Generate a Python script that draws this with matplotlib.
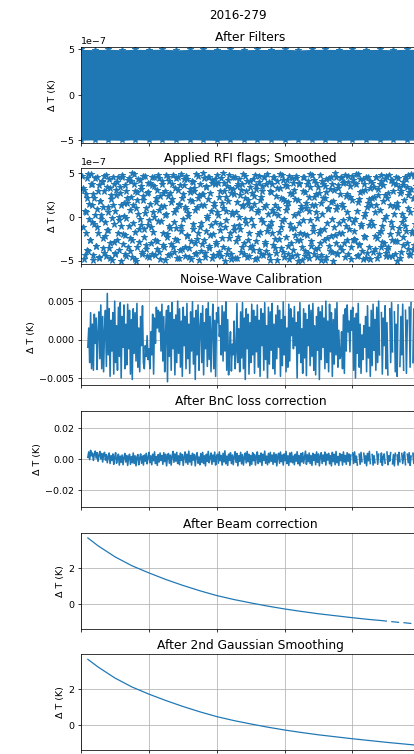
import matplotlib
matplotlib.use('Agg')
import matplotlib.pyplot as plt
import numpy as np

nan = np.nan

# ---------------------------------------------------------------
# data (x in arbitrary time units 0..50)
# ---------------------------------------------------------------
titulo = '2016-279'
paneles = ['After Filters', 'Applied RFI flags; Smoothed', 'Noise-Wave Calibration',
           'After BnC loss correction', 'After Beam correction', 'After 2nd Gaussian Smoothing']

# panel 1: solid band of points, envelope (units 1e-7 K)
banda_x = [0, 2, 4, 6, 8, 10, 12, 14, 16, 18, 20, 22, 24, 26, 28, 30, 32, 34, 36, 38, 40, 42, 44, 46, 48, 50]
banda_sup = [5.00, 4.98, 5.02, 4.97, 5.01, 4.99, 5.03, 4.96, 5.00, 5.02, 4.98, 5.01, 4.97, 5.00,
             4.99, 5.03, 4.95, 5.00, 5.02, 4.98, 5.01, 4.99, 5.00, 4.97, 5.02, 5.00]
banda_inf = [-5.02, -4.98, -5.00, -5.03, -4.97, -5.01, -4.99, -5.02, -4.96, -5.00, -5.03, -4.98, -5.01,
             -4.99, -5.00, -5.02, -4.97, -5.01, -4.99, -5.03, -5.00, -4.98, -5.02, -4.99, -5.01, -5.00]

# panel 2: flagged + smoothed samples (units 1e-8 K), two interleaved sample sets
rfi_a = [
    47, -12, 31, -44, 5, 22, -38, 49, -3, -27, 38, 14, -49, 26, -8, 44, -33, 9, -19, 36,
    -46, 18, 2, 41, -24, -41, 29, -6, 48, -15, 11, -36, 33, -47, 20, -1, 45, -29, 7, -43,
    25, 40, -18, -4, 34, -50, 13, 46, -31, 1, -21, 30, -45, 16, 42, -11, -39, 23, 50, -26,
    -7, 37, -48, 10, 28, -35, 43, -14, -2, 32, -42, 19, 47, -23, 4, -37, 27, -9, 39, -46,
    15, -30, 45, -17, 0, 35, -44, 21, -28, 48, 8, -40, 24, -5, 41, -32, 12, -49, 30, 3,
    -20, 46, -10, 27, -43, 17, 38, -34, 6, -25, 44, -13, -47, 31, 14, -38, 49, -16, 22, -3,
    36, -45, 9, 43, -22, 1, -36, 28, -48, 18, 40, -8, 33, -30, -41, 11, 47, -19, 25, -12,
    -39, 26, 50, -27, 13, -46, 34, -1, 20, -33, 45, -21, 7, 42, -44, 16, -6, 37, -31, 48,
    2, -40, 29, -15, 44, -24, 10, 39, -50, 23, -4, 35, -37, 48, -18, 27, -43, 5, 32, -10,
    46, -28, 17, -47, 38, 0, -14, 31, -35, 12, 49, -42, 21, -7, 41, -26, 15, -45, 34, -2,
    -33, 43, -9, 24, -48, 36, 6, -20, 47, -38, 19, -3, 29, -44, 11, 45, -29, 38, -16, 3,
    40, -11, -49, 28, 8, -32, 46, -25, 14, -41, 33, 2, -17, 49, -36, 22, -5, 42, -46, 18,
    -23, 35, 12, -43, 47, -8, -30, 26, -45, 39, -13, 20, 44, -27, 4, -50, 37, -19, 9, -34,
    30, -4, 45, -39, 16, -21, 41, -47, 7, 34, -28, 48, -10, 23, -42, 13, 39, -1, -36, 27,
    -15, 48, -44, 3, 37, -26, 21, -49, 43, -7, 10, -33, 32, 46, -22, -40, 18, -12, 50, -30,
    9, -42, 33, -18, 26, 44, -38, 15, -4, 40, -46, 24, -26, 6, 47, -14, 35, -48, 19, -6,
    42, -25, -3, 37, -45, 17, 49, -31, 28, -11, -39, 43, 1, -22, 31, -47, 11, 45, -35, 20,
    -48, 14, 39, -9, 23, -37, 5, 46, -24, 32, -43, 8, 41, -16, -29, 36, -2, 25, -41, 47,
    21, -34, 48, -20, -6, 42, -45, 30, 12, -28, 38, -50, 16, 44, -13, 27, -40, 3, 36, -23,
    -1, 45, -16, 34, -37, 10, 28, -44, 49, -19, 22, -32, 47, -8, 35, -46, 13, 40, -27, 6,
]
rfi_b = [
    33, -48, 7, 26, -18, 44, -39, 15, -27, 49, -6, 37, -44, 21, 2, -33, 46, -12, 29, -47,
    18, -3, 40, -36, 11, 47, -22, -45, 34, 6, -15, 43, -30, 25, -49, 13, 38, -8, -41, 31,
    -26, 45, 0, -38, 27, -11, 48, -20, 16, -43, 36, -1, 22, -35, 44, -24, 8, 41, -46, 14,
    49, -17, 30, -50, 19, 3, -29, 42, -9, 35, -40, 24, -14, 47, -32, 10, -45, 28, -4, 39,
    -12, 36, -42, 6, 46, -27, 17, -37, 31, -5, 44, -48, 12, 38, -19, 27, -34, 2, 48, -23,
    24, -44, 41, -13, -31, 20, 48, -6, -40, 33, 9, -26, 45, -47, 15, 36, -10, -37, 26, 43,
    -35, 11, 47, -21, 4, -46, 32, 19, -28, 41, -14, 30, -43, 8, 49, -25, 21, -49, 37, -7,
    14, -31, 26, 44, -41, 35, -16, 1, 46, -36, 27, -9, -47, 39, -20, 12, 43, -29, 5, -44,
    39, 23, -8, -45, 16, 50, -34, 29, -12, 7, -42, 42, 18, -24, 33, -48, 3, 46, -15, 26,
    -47, 6, 35, -23, 43, -9, 25, -40, 37, 13, -30, 47, -2, 29, -46, 19, -18, 41, -35, 10,
    27, -38, 15, 48, -28, 32, -47, 8, 40, -17, 23, -43, 35, -6, 45, -31, 14, -39, 49, -11,
    -44, 30, -6, 38, -19, 46, 4, -36, 24, -49, 41, 10, -25, 33, -12, 48, -40, 20, -2, 36,
    8, 42, -33, 17, -48, 27, -13, 44, -38, 2, 31, -21, 47, -44, 19, -7, 39, -27, 12, -49,
    45, -20, 28, -45, 10, 37, -41, 23, -4, 49, -33, 14, -16, 42, -37, 26, 5, -46, 34, -18,
    -30, 16, -49, 41, 22, -14, 35, -46, 28, -24, 9, 44, -39, 17, -3, 37, -50, 31, -21, 45,
    12, -41, 36, -7, -35, 46, -19, 11, 39, -30, 48, -11, 26, -43, 40, -1, 23, -34, 47, -26,
    -16, 39, -27, 49, 7, -44, 20, -32, 43, -8, 29, -48, 38, 4, -23, 46, -41, 16, -9, 33,
    41, -5, 21, -40, 34, -22, 46, 13, -47, 25, -18, 37, -34, 48, -10, 18, -30, 43, -45, 1,
    -37, 27, -45, 14, 42, -12, -26, 39, 3, -42, 45, -28, 11, -19, 34, -47, 29, -6, 40, -32,
    19, -10, 43, -30, 25, 48, -43, 6, 32, -16, -38, 22, 49, -36, 9, 40, -22, 35, -48, 24,
]

# panel 3: noise-wave calibrated (units 1e-4 K)
nw_vals = [
    -10, 15, -30, 35, -38, 20, -40, 33, -5, 28, -39, 10, 36, -25, 45, -38, 30, -42, 12, 38,
    -35, 60, -20, 40, -48, 25, -15, 35, -45, 50, -30, 18, -40, 42, -22, 48, -50, 30, -10, 45,
    -38, 20, -33, 46, -12, 38, -45, 26, -52, 40, -18, 35, -28, 47, -36, 15, -42, 30, -8, 44,
    -30, -38, -8, -22, 5, -26, -12, -38, 10, -20, 33, -45, 28, -5, 42, 15, 38, 10, 36, -15,
    46, -28, 30, -42, 10, 38, -55, 44, -22, 35, -40, 48, -12, 26, -46, 32, -30, 50, -18, 40,
    -36, 24, -48, 42, -8, 30, -38, 47, -25, 20, -44, 36, -15, 49, -32, 28, -52, 38, -20, 45,
    -40, 16, 34, -30, 44, -46, 22, -12, 40, -35, 48, -26, 30, -42, 12, 46, -38, 25, -48, 35,
    22, 42, 4, 18, -20, 44, -28, 36, -15, 49, -40, 26, -46, -12, 10, -41, -6, -20, 24, -38,
    -18, 47, -30, 14, -42, 36, -24, 48, -38, 28, -52, 40, -12, 33, -45, 22, -30, 46, -20, 38,
    -44, 30, -16, 45, -36, 25, -48, 40, -8, 34, -40, 48, -26, 18, -50, 42, -32, 36, -14, 47,
    -38, 20, -45, 32, -25, 44, -10, 38, -48, 26, -34, 49, -20, 30, -42, 15, -36, 46, -28, 40,
    5, 28, -12, 43, -8, 22, -50, 36, -18, 48, -30, 14, -44, 40, -24, 34, -47, 26, -8, 45,
    -34, 38, -22, 47, -40, 18, -46, 30, -14, 42, -52, 36, -26, 44, -10, 28, -38, 50, -30, 24,
    -42, 46, -16, 35, -48, 26, -32, 40, -20, 48, -36, 12, -25, -22, 10, -38, 32, -44, 40, -15,
    45, 10, 24, -16, 38, 12, 42, -40, 28, -50, 34, -18, 47, -36, 20, -44, 6, -26, 18, -10,
    30, -42, 44, -24, 16, -48, 38, -34, 46, -14, 26, -40, 42, -30, 50, -20, nan, 35, -45, 28,
    -8, 44, -38, 22, -46, nan, 40, -30, 48, -16, nan, 36, -42, 20, -48, 45, nan, -35, 30, -20,
    46, -40, nan, 38, -44, 25, nan, 42, -36, 48, nan, -30, 40, -45, nan, 35, -25, 46, -38, 30,
]

# panel 4: after BnC loss correction (units 1e-4 K)
bnc_vals = [
    10, 45, -5, 55, 20, 38, -10, 30, 50, 5, 40, -15, 25, 48, 0, 35, -20, 30, 42, -8,
    28, -25, 15, 38, -30, 20, -10, 32, -35, 12, 40, -28, 5, 30, -40, 18, -22, 25, -38, 10,
    35, -20, 22, -42, 8, 30, -35, 15, -25, 38, -30, 20, -45, 12, 28, -38, 5, 32, -28, 18,
    -40, 25, -15, 36, -32, 10, 42, -25, 20, -38, 30, -12, 45, -30, 15, -42, 28, -20, 38, -10,
    22, -35, 40, -18, 30, -45, 12, 35, -28, 25, -40, 18, 48, -22, 32, -15, 42, -30, 20, -38,
    38, -10, 28, -42, 15, 45, -25, 30, -35, 50, -20, 22, -40, 36, -8, 28, -45, 18, 40, -28,
    12, -38, 35, -22, 42, -30, 20, -45, 30, -15, 48, -25, 10, 38, -35, 25, -18, 44, -40, 15,
    30, -28, 45, -12, 22, -40, 36, -20, 52, -32, 18, -42, 30, -10, 40, -30, 25, -38, 15, 46,
    -22, 35, -45, 20, -15, 42, -32, 28, -40, 12, 38, -26, 48, -18, 30, -44, 22, -35, 40, -12,
    28, -40, 15, 45, -30, 22, -20, 38, -42, 30, -10, 50, -28, 18, -38, 35, -25, 42, -15, 25,
    -35, 40, -22, 30, -45, 15, 36, -28, 44, -18, 25, -40, 32, -12, 48, -30, 20, -42, 38, -20,
    42, -25, 18, -38, 30, -15, 46, -32, 22, -44, 35, -20, 40, -28, 12, 50, -35, 26, -18, 38,
    -30, 22, -42, 36, -10, 28, -38, 45, -22, 32, -45, 18, 40, -30, 25, -15, 44, -40, 30, -8,
    36, -32, 20, -45, 42, -18, 30, -38, 48, -25, 15, -42, 35, -12, 28, -40, 45, -20, 22, -35,
    40, -15, 32, -42, 25, nan, 38, -30, 45, -22, 18, -40, nan, 30, -35, 42, -18, nan, 36, -28,
    20, -44, 35, -12, 48, -30, nan, 28, -40, 22, -25, nan, 45, -35, 30, nan, -20, 38, -42, 15,
    32, -28, nan, 44, -38, 20, -15, 40, nan, -32, 28, -45, 36, nan, 25, -40, 42, -18, nan, 35,
    -30, 22, 45, -38, nan, 30, -25, 40, -42, 18, nan, 36, -30, 44, -20, 28, -44, nan, 38, -15,
]

# panel 5: after beam correction (K), with small data gaps at the end
beam_x = [1, 2.5, 5, 7.5, 10, 12.5, 15, 17.5, 20, 22.5, 25, 27.5, 30, 32.5, 35, 37.5, 40, 42.5,
          44, 45, 45.3, 45.8, 46.8, 47.1, 47.6, 48.6, 48.9, 49.4, 50]
beam_y = [3.70, 3.26, 2.64, 2.14, 1.74, 1.37, 1.04, 0.74, 0.47, 0.25, 0.06, -0.12, -0.28, -0.42,
          -0.55, -0.66, -0.77, -0.87, -0.92, -0.96, nan, -0.99, -1.03, nan, -1.05, -1.09, nan, -1.11, -1.15]

# panel 6: after 2nd gaussian smoothing (K)
suave_x = [1, 2.5, 5, 7.5, 10, 12.5, 15, 17.5, 20, 22.5, 25, 27.5, 30, 32.5, 35, 37.5, 40, 42.5,
           45, 47.5, 50]
suave_y = [3.68, 3.25, 2.63, 2.13, 1.73, 1.37, 1.04, 0.74, 0.47, 0.25, 0.06, -0.12, -0.28, -0.42,
           -0.55, -0.66, -0.77, -0.87, -0.97, -1.06, -1.15]

# ---------------------------------------------------------------
# figure
# ---------------------------------------------------------------
DPI = 68
W, H = 414, 754
fig = plt.figure(figsize=((W + 0.3) / DPI, (H + 0.3) / DPI), dpi=DPI)

izq, der = 81, 420
alto = 96
tops = [47, 168, 289, 411, 533, 654]
axs = []
for i, t in enumerate(tops):
    ax = fig.add_axes([izq / W, 1 - (t + alto) / H, (der - izq) / W, alto / H],
                      sharex=axs[0] if axs else None)
    axs.append(ax)

fig.text(238 / W, 1 - 15 / H, titulo, ha='center', va='center', fontsize=12.6)

# 1. After Filters
ax = axs[0]
bx = np.array(banda_x)
ax.fill_between(bx, np.array(banda_inf) * 1e-7, np.array(banda_sup) * 1e-7, color='C0', lw=0)
ax.plot(bx, np.array(banda_sup) * 1e-7, '*', color='C0')
ax.plot(bx, np.array(banda_inf) * 1e-7, '*', color='C0')
ax.set_ylim(-5.3e-7, 5.3e-7)
ax.set_yticks([-5e-7, 0, 5e-7])

# 2. Applied RFI flags; Smoothed
ax = axs[1]
for serie, x0 in ((rfi_a, 0.2), (rfi_b, 0.3)):
    ys = np.array(serie) * 1e-8
    ax.plot(np.linspace(x0, 50, len(ys)), ys, '*', color='C0', markersize=7, linestyle='none')
ax.set_ylim(-5.37e-7, 5.6e-7)
ax.set_yticks([-5e-7, 0, 5e-7])

# 3. Noise-Wave Calibration
ax = axs[2]
y3 = np.array(nw_vals, dtype=float) * 1e-4
ax.plot(np.linspace(1, 50, len(y3)), y3, color='C0', lw=1.7)
ax.set_ylim(-0.0059, 0.0066)
ax.set_yticks([-0.005, 0, 0.005])

# 4. After BnC loss correction
ax = axs[3]
y4 = np.array(bnc_vals, dtype=float) * 1e-4
ax.plot(np.linspace(1, 50, len(y4)), y4, color='C0', lw=1.7)
ax.set_ylim(-0.031, 0.031)
ax.set_yticks([-0.02, 0, 0.02])

# 5. After Beam correction
ax = axs[4]
ax.plot(beam_x, beam_y, color='C0', lw=1.3)
ax.set_ylim(-1.4, 3.98)
ax.set_yticks([0, 2])

# 6. After 2nd Gaussian Smoothing
ax = axs[5]
ax.plot(suave_x, suave_y, color='C0', lw=1.3)
ax.set_ylim(-1.4, 3.98)
ax.set_yticks([0, 2])

for i, ax in enumerate(axs):
    ax.set_title(paneles[i], fontsize=13)
    ax.set_ylabel('Δ T (K)')
    ax.set_xlim(0, 50)
    ax.set_xticks([0, 10, 20, 30, 40, 50])
    ax.tick_params(labelbottom=False)
    if i >= 2:
        ax.grid(True)

fig.savefig('out.png', dpi=DPI)
